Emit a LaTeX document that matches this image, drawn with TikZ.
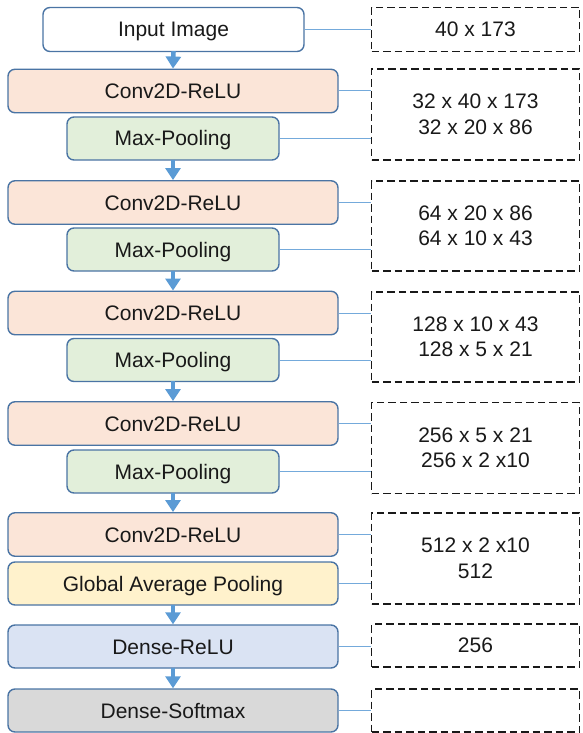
\documentclass[tikz,border=0pt]{standalone}
\usepackage{fontspec}
\setmainfont{Liberation Sans}
\usetikzlibrary{arrows.meta}
\definecolor{bordc}{HTML}{4A74A4}
\definecolor{arrc}{HTML}{5B9BD5}
\definecolor{convc}{HTML}{FBE5D8}
\definecolor{poolc}{HTML}{E2EFDA}
\definecolor{gapc}{HTML}{FFF2CC}
\definecolor{densec}{HTML}{DAE3F3}
\definecolor{softc}{HTML}{D9D9D9}
\tikzset{
  layer/.style={draw=bordc, line width=1.4pt, rounded corners=7pt, inner sep=0pt,
    text height=15pt, text depth=0pt,
    font=\fontsize{21}{24}\selectfont, text=black!90},
  convbox/.style={layer, fill=convc, minimum width=330pt, minimum height=43.5pt},
  poolbox/.style={layer, fill=poolc, minimum width=212pt, minimum height=43pt},
  sizebox/.style={draw=black!90, line width=1.6pt, dash pattern=on 7.5pt off 4pt,
    minimum width=208pt, inner sep=0pt, align=center,
    font=\fontsize{21}{25.5}\selectfont, text=black!90},
  flow/.style={draw=arrc, line width=4.5pt, -{Triangle[width=15pt,length=12pt]}, shorten <=-1pt},
  link/.style={draw=arrc!85, line width=1pt}
}
\begin{document}
\begin{tikzpicture}[x=1pt,y=-1pt]
\useasboundingbox (0,0) rectangle (582,733);
% main column
\node[layer, fill=white, minimum width=261pt, minimum height=44pt] (in) at (173.5,29.5) {Input Image};
\node[convbox] (c1) at (173,91) {Conv2D-ReLU};
\node[poolbox] (p1) at (173,138.5) {Max-Pooling};
\node[convbox] (c2) at (173,202.5) {Conv2D-ReLU};
\node[poolbox] (p2) at (173,249.5) {Max-Pooling};
\node[convbox] (c3) at (173,313) {Conv2D-ReLU};
\node[poolbox] (p3) at (173,360) {Max-Pooling};
\node[convbox] (c4) at (173,423.5) {Conv2D-ReLU};
\node[poolbox] (p4) at (173,471.5) {Max-Pooling};
\node[convbox] (c5) at (173,534.5) {Conv2D-ReLU};
\node[layer, fill=gapc, minimum width=330pt, minimum height=43pt] (gp) at (173,583.5) {Global Average Pooling};
\node[layer, fill=densec, minimum width=330pt, minimum height=43pt] (d1) at (173,646.5) {Dense-ReLU};
\node[layer, fill=softc, minimum width=330pt, minimum height=43pt] (d2) at (173,710.5) {Dense-Softmax};
% size boxes
\node[sizebox, minimum height=44pt] (b0) at (475.5,29.5) {40 x 173};
\node[sizebox, minimum height=91pt] (b1) at (475.5,114.5) {32 x 40 x 173\\32 x 20 x 86};
\node[sizebox, minimum height=90pt] (b2) at (475.5,226) {64 x 20 x 86\\64 x 10 x 43};
\node[sizebox, minimum height=90pt] (b3) at (475.5,337) {128 x 10 x 43\\128 x 5 x 21};
\node[sizebox, minimum height=91pt] (b4) at (475.5,448) {256 x 5 x 21\\256 x 2 x10};
\node[sizebox, minimum height=91pt] (b5) at (475.5,558.5) {512 x 2 x10\\512};
\node[sizebox, minimum height=43pt] (b6) at (475.5,645.5) {256};
\node[sizebox, minimum height=43pt] (b7) at (475.5,710.5) {};
% flow arrows
\draw[flow] (in.south) -- (c1.north);
\draw[flow] (p1.south) -- (c2.north);
\draw[flow] (p2.south) -- (c3.north);
\draw[flow] (p3.south) -- (c4.north);
\draw[flow] (p4.south) -- (c5.north);
\draw[flow] (gp.south) -- (d1.north);
\draw[flow] (d1.south) -- (d2.north);
% links to size boxes
\draw[link] (in.east) -- (in.east -| b0.west);
\draw[link] (c1.east) -- (c1.east -| b1.west);
\draw[link] (p1.east) -- (p1.east -| b1.west);
\draw[link] (c2.east) -- (c2.east -| b2.west);
\draw[link] (p2.east) -- (p2.east -| b2.west);
\draw[link] (c3.east) -- (c3.east -| b3.west);
\draw[link] (p3.east) -- (p3.east -| b3.west);
\draw[link] (c4.east) -- (c4.east -| b4.west);
\draw[link] (p4.east) -- (p4.east -| b4.west);
\draw[link] (c5.east) -- (c5.east -| b5.west);
\draw[link] (gp.east) -- (gp.east -| b5.west);
\draw[link] (d1.east) -- (d1.east -| b6.west);
\draw[link] (d2.east) -- (d2.east -| b7.west);
\end{tikzpicture}
\end{document}
